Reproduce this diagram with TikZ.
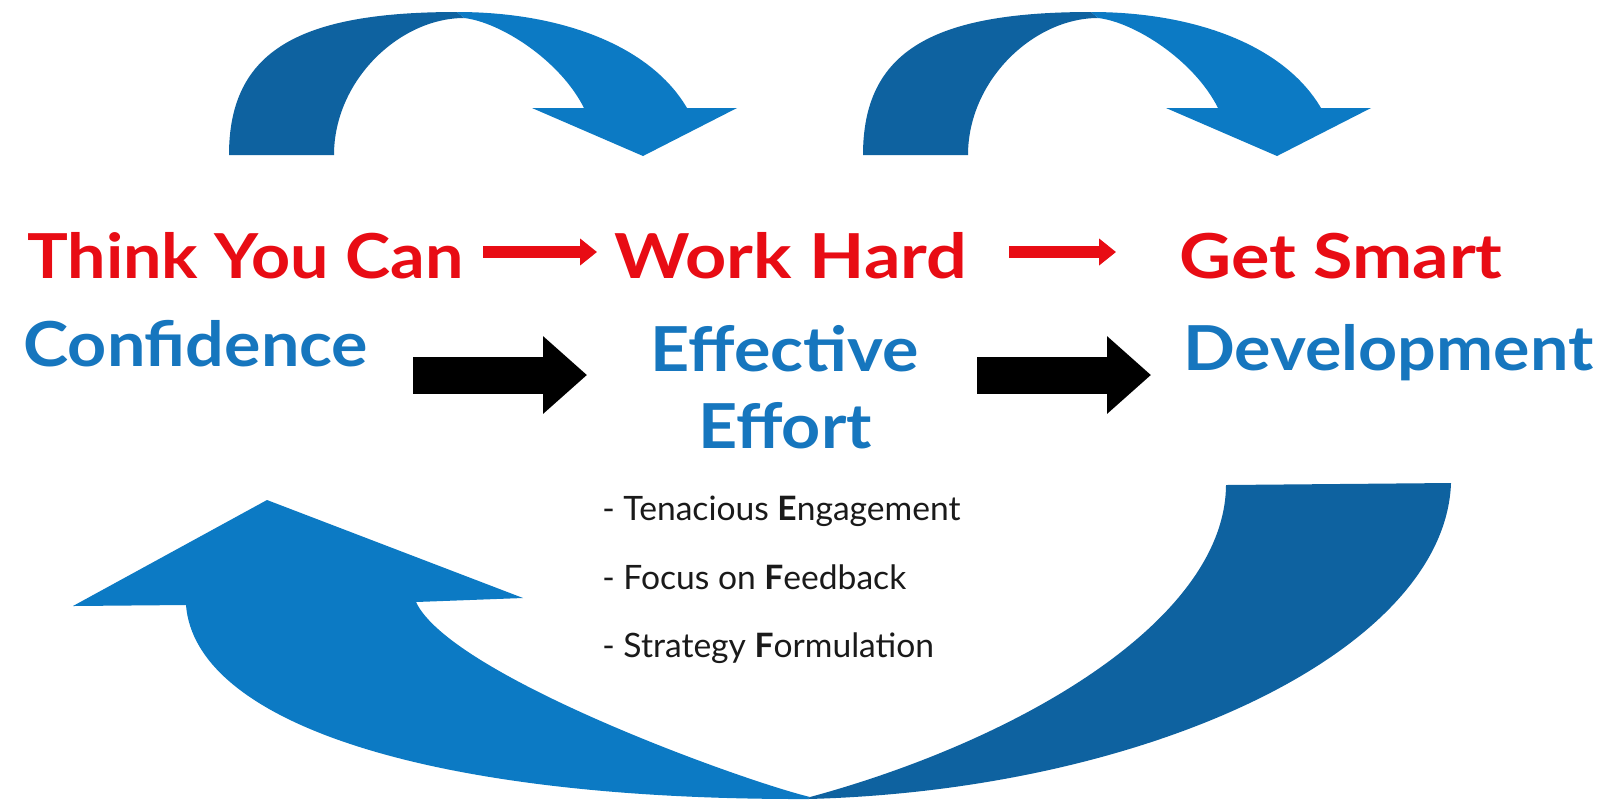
\documentclass[tikz,border=0pt]{standalone}
\usepackage{fontspec}
\setmainfont{Lato}
\newfontfamily\headfont[FakeStretch=1.1]{Lato}
\newfontfamily\headfontwide[FakeStretch=1.16]{Lato}
\usetikzlibrary{arrows.meta}
\definecolor{redtxt}{RGB}{232,12,20}
\definecolor{bluetxt}{RGB}{22,118,190}
\definecolor{arrdark}{RGB}{14,98,160}
\definecolor{arrlight}{RGB}{12,122,196}
\definecolor{bullettxt}{RGB}{26,26,26}
\begin{document}
\begin{tikzpicture}[x=0.5pt,y=-0.5pt,
  headred/.style={anchor=base west, inner sep=0pt, text=redtxt, font=\headfont\fontsize{31}{36}\selectfont\bfseries},
  headredwide/.style={headred, font=\headfontwide\fontsize{31}{36}\selectfont\bfseries},
  headblue/.style={anchor=base west, inner sep=0pt, text=bluetxt, font=\headfont\fontsize{31}{36}\selectfont\bfseries},
  bullet/.style={anchor=base west, inner sep=0pt, text=bullettxt, font=\fontsize{16.8}{20}\selectfont},
  redarrow/.style={draw=redtxt, line width=6pt, line cap=butt, -{Triangle[length=8.5pt,width=13pt]}},
  blackarrow/.style={draw=black, line width=18.5pt, line cap=butt, -{Triangle[length=22pt,width=37.5pt]}},
  darkpart/.style={fill=arrdark},
  lightpart/.style={fill=arrlight}]
\useasboundingbox (0,0) rectangle (1609,799);
\fill[white] (0,0) rectangle (1609,799);

% top curved arrows
\foreach \dx in {0,634}{
  \begin{scope}[xshift=\dx*0.5pt]
    \path[darkpart] (229,155) .. controls (229,50) and (300,12) .. (457,12)
      -- (464,18) .. controls (400,18) and (334,80) .. (334,155) -- cycle;
    \path[lightpart] (457,12) .. controls (560,12) and (650,45) .. (687,108)
      -- (737,108) -- (643,156) -- (532,108) -- (584,108)
      .. controls (560,60) and (500,22) .. (464,18) -- cycle;
  \end{scope}
}

% bottom curved arrow
\path[lightpart] (808,799) .. controls (420,800) and (195,720) .. (186,605)
  -- (73,606) -- (267,500) -- (523,598) -- (416,602)
  .. controls (450,675) and (740,780) .. (810,797) -- cycle;
\path[darkpart] (808,799) .. controls (1150,790) and (1445,650) .. (1451,483)
  -- (1226,485) .. controls (1225,620) and (1020,740) .. (810,797) -- cycle;

% texts
\node[headred] (think) at (27,278) {Think You Can};
\node[headredwide] (work) at (614,278) {Work Hard};
\node[headredwide] (smart) at (1179,278) {Get Smart};
\node[headblue] (conf) at (23,366) {Confidence};
\node[anchor=base, inner sep=0pt, text=bluetxt, align=center,
      font=\headfont\fontsize{31}{38.5}\selectfont\bfseries] (eff) at (785,448) {Effective\\Effort};
\node[headblue] (dev) at (1183,370) {Development};

\node[bullet] (b1) at (602,520) {- Tenacious \textbf{E}ngagement};
\node[bullet] (b2) at (602,589) {- Focus on \textbf{F}eedback};
\node[bullet] (b3) at (602,657) {- Strategy \textbf{F}ormulation};

% small arrows
\coordinate (r1s) at (483,252);
\coordinate (r1e) at (597,252);
\coordinate (r2s) at (1009,252);
\coordinate (r2e) at (1116,252);
\draw[redarrow] (r1s) -- (r1e);
\draw[redarrow] (r2s) -- (r2e);
\coordinate (k1s) at (413,375);
\coordinate (k1e) at (587,375);
\coordinate (k2s) at (977,375);
\coordinate (k2e) at (1151,375);
\draw[blackarrow] (k1s) -- (k1e);
\draw[blackarrow] (k2s) -- (k2e);
\end{tikzpicture}
\end{document}
